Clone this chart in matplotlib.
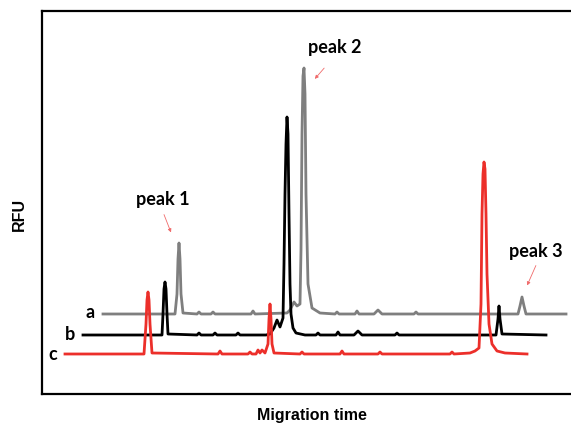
import matplotlib.pyplot as plt

# traces (x = migration time, y = RFU, arbitrary units)
a_x = [103, 175, 177, 178, 179, 180, 181, 183, 197, 199, 201, 211, 213, 215, 251, 253, 255,
       287, 290, 294, 297, 300, 301, 302, 303, 304, 305, 306, 308, 312, 320,
       335, 337, 339, 355, 357, 359, 374, 378, 382, 414, 416, 418, 518, 520, 522, 524, 526, 566]
a_y = [80, 80, 100, 135, 151, 135, 100, 81, 80, 82, 80, 80, 82, 80, 80, 83, 80,
       81, 84, 92, 88, 90, 144, 260, 318, 326, 300, 200, 110, 86, 81,
       80, 82, 80, 80, 83, 80, 80, 84, 80, 80, 82, 80, 80, 88, 97, 88, 80, 80]

b_x = [83, 162, 163, 164, 165, 166, 167, 168, 197, 199, 201, 213, 215, 217, 236, 238, 240,
       266, 270, 274, 277, 280, 283, 284, 285, 286, 287, 288, 289, 290, 291, 293, 296, 305,
       316, 318, 320, 336, 338, 340, 354, 358, 362, 395, 397, 399, 496, 498, 499, 500, 502, 546]
b_y = [59, 59, 80, 105, 112, 105, 80, 60, 59, 61, 59, 59, 61, 59, 59, 61, 59,
       59, 60, 66, 74, 67, 76, 130, 200, 250, 277, 260, 180, 110, 80, 66, 61, 59,
       59, 61, 59, 59, 62, 59, 59, 63, 59, 59, 61, 59, 59, 75, 88, 75, 60, 59]

c_x = [65, 144, 146, 147, 148, 149, 150, 152, 218, 220, 222, 248, 250, 252, 256, 258, 260, 262,
       265, 268, 269, 270, 271, 272, 274, 300, 302, 304, 340, 342, 344, 378, 380, 382,
       450, 452, 454, 470, 475, 479, 481, 482, 483, 484, 485, 486, 487, 489, 492, 497, 505, 527]
c_y = [40, 40, 70, 94, 102, 94, 70, 41, 40, 43, 40, 40, 42, 40, 40, 44, 41, 44,
       41, 50, 75, 90, 75, 50, 41, 40, 42, 40, 40, 43, 40, 40, 42, 40,
       40, 42, 40, 41, 43, 46, 90, 180, 220, 232, 225, 180, 120, 70, 50, 43, 41, 40]

peak_labels = ['peak 1', 'peak 2', 'peak 3']

fig = plt.figure(figsize=(5.71, 4.23), dpi=100)
ax = fig.add_axes([42/571, 29/423, 540/571, 383/423])

ax.plot(a_x, a_y, color='#7f7f7f', lw=2)
ax.plot(b_x, b_y, color='black', lw=2)
ax.plot(c_x, c_y, color='#ec2f2a', lw=2)

ax.set_xlim(42, 582)
ax.set_ylim(0, 383)
ax.set_xticks([])
ax.set_yticks([])
for s in ax.spines.values():
    s.set_linewidth(1.6)

lab = dict(fontfamily='Lato', fontweight='bold', fontsize=13, ha='center', va='center')
ax.text(90, 82, 'a', **lab)
ax.text(70, 60, 'b', **lab)
ax.text(53, 40, 'c', **lab)

# peak labels + little red arrows
txt_pos = [(163, 195), (335, 347), (536, 142)]
arr = [((163, 182), (172, 159)), ((326, 328), (313, 313)), ((537, 131), (526, 106))]
for name, tp, (p0, p1) in zip(peak_labels, txt_pos, arr):
    ax.text(tp[0], tp[1], name, **lab)
    ax.annotate('', xy=p1, xytext=p0,
                arrowprops=dict(arrowstyle='-|>', color='#f06a6a', lw=0.6, mutation_scale=5))

fig.text(312/571, 1 - 415/423, 'Migration time', fontfamily='Liberation Sans',
         fontweight='bold', fontsize=11.5, ha='center', va='center')
fig.text(19/571, 1 - 214/423, 'RFU', fontfamily='Liberation Sans', fontweight='bold',
         fontsize=11.5, ha='center', va='center', rotation=90)

fig.savefig('out.png', dpi=100)
